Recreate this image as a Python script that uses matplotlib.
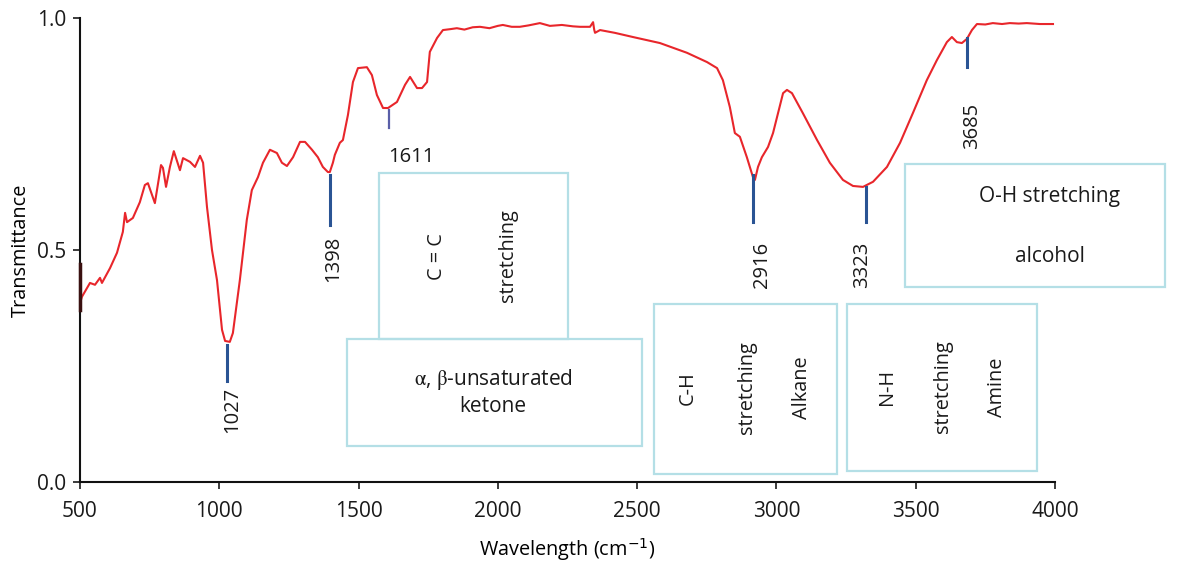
import matplotlib
matplotlib.use('Agg')
import matplotlib.pyplot as plt
import matplotlib.patches as patches

plt.rcParams['font.family'] = ['Open Sans', 'DejaVu Sans']
plt.rcParams['mathtext.fontset'] = 'dejavusans'

# FTIR spectrum (wavenumber, transmittance)
wavenumber = [500, 507, 536, 554, 572, 579, 608, 633, 654, 662, 669, 690, 715, 733, 744,
              769, 791, 798, 809, 823, 837, 859, 870, 895, 913, 931, 942, 956, 974, 992,
              1010, 1021, 1038, 1049, 1074, 1099, 1117, 1139, 1157, 1182, 1207, 1225, 1243,
              1265, 1290, 1308, 1333, 1354, 1372, 1390, 1397, 1408, 1415, 1433, 1444, 1462,
              1480, 1498, 1530, 1548, 1566, 1588, 1606, 1638, 1667, 1685, 1710, 1728, 1746,
              1756, 1782, 1803, 1830, 1853, 1880, 1910, 1936, 1970, 2000, 2018, 2050, 2079,
              2110, 2151, 2187, 2230, 2270, 2295, 2331, 2342, 2346, 2349, 2367, 2420, 2485,
              2582, 2679, 2751, 2787, 2808, 2833, 2851, 2869, 2894, 2916, 2923, 2934, 2948,
              2970, 2988, 3006, 3024, 3038, 3056, 3095, 3146, 3192, 3239, 3275, 3311, 3347,
              3397, 3444, 3490, 3540, 3576, 3612, 3630, 3648, 3666, 3684, 3702, 3720, 3750,
              3777, 3810, 3838, 3870, 3899, 3946, 3993]
transmittance = [0.385, 0.399, 0.429, 0.425, 0.440, 0.429, 0.461, 0.494, 0.539, 0.580, 0.560,
                 0.569, 0.603, 0.640, 0.644, 0.601, 0.683, 0.677, 0.636, 0.679, 0.713, 0.672,
                 0.698, 0.690, 0.679, 0.703, 0.688, 0.593, 0.500, 0.435, 0.328, 0.304, 0.302,
                 0.321, 0.435, 0.565, 0.629, 0.657, 0.688, 0.716, 0.709, 0.688, 0.681, 0.700,
                 0.733, 0.733, 0.716, 0.700, 0.679, 0.668, 0.668, 0.688, 0.705, 0.731, 0.737,
                 0.791, 0.862, 0.892, 0.894, 0.877, 0.834, 0.806, 0.806, 0.819, 0.856, 0.873,
                 0.849, 0.849, 0.862, 0.927, 0.957, 0.974, 0.976, 0.978, 0.975, 0.980, 0.981,
                 0.978, 0.983, 0.985, 0.981, 0.981, 0.984, 0.989, 0.983, 0.985, 0.982, 0.981,
                 0.981, 0.991, 0.975, 0.968, 0.974, 0.968, 0.959, 0.946, 0.925, 0.905, 0.892,
                 0.866, 0.808, 0.752, 0.744, 0.700, 0.657, 0.651, 0.679, 0.700, 0.722, 0.752,
                 0.795, 0.838, 0.845, 0.838, 0.795, 0.737, 0.688, 0.651, 0.638, 0.636, 0.647,
                 0.679, 0.731, 0.795, 0.866, 0.909, 0.948, 0.959, 0.948, 0.946, 0.955, 0.974,
                 0.987, 0.986, 0.989, 0.987, 0.989, 0.988, 0.989, 0.987, 0.987]

# noisy start at 500 cm-1
edge_y = [0.37, 0.47]

# peak markers: label, tick top, tick bottom
peaks = [1027, 1398, 1611, 2916, 3323, 3685]
peak_top = [0.295, 0.662, 0.802, 0.662, 0.636, 0.957]
peak_bottom = [0.218, 0.554, 0.763, 0.560, 0.560, 0.894]

# assignment boxes
box_names = ['C=C', 'ketone', 'C-H', 'N-H', 'O-H']
box_texts = [
    [('C = C', 1782, 0.485, 90), ('stretching', 2036, 0.487, 90)],
    [('$\\mathrm{\\alpha}$, $\\mathrm{\\beta}$-unsaturated\nketone', 1983, 0.194, 0)],
    [('C-H', 2683, 0.203, 90), ('stretching', 2894, 0.203, 90), ('Alkane', 3092, 0.203, 90)],
    [('N-H', 3397, 0.205, 90), ('stretching', 3598, 0.205, 90), ('Amine', 3792, 0.205, 90)],
    [('O-H stretching', 3982, 0.616, 0), ('alcohol', 3982, 0.485, 0)],
]

# layout (data coords): x0, x1, y0, y1
box_pos = [(1573, 2252, 0.308, 0.666), (1458, 2517, 0.078, 0.308),
           (2560, 3217, 0.017, 0.384), (3253, 3935, 0.024, 0.384),
           (3462, 4395, 0.420, 0.685)]
peak_label_pos = [(1045, 0.155, 90), (1410, 0.48, 90), (1690, 0.700, 0),
                  (2950, 0.468, 90), (3309, 0.468, 90), (3704, 0.767, 90)]

fig = plt.figure(figsize=(12.04, 5.64), dpi=100)
ax = fig.add_axes([0.0664, 0.1454, 0.8098, 0.8227])

ax.plot(wavenumber, transmittance, color='#e8262b', lw=1.5, zorder=3)
ax.plot([500, 500], edge_y, color='#3a1010', lw=2.5, zorder=4, clip_on=False)

for i in range(len(peaks)):
    c = '#5a5fa8' if peaks[i] == 1611 else '#2a5494'
    w = 1.6 if peaks[i] == 1611 else 2.2
    ax.plot([peaks[i], peaks[i]], [peak_bottom[i], peak_top[i]], color=c, lw=w, zorder=4)
    (lx, ly, rot) = peak_label_pos[i]
    ax.text(lx, ly, str(peaks[i]), rotation=rot, ha='center', va='center',
            fontsize=14.5, color='#1a1a1a')

for i in range(len(box_names)):
    (x0, x1, y0, y1) = box_pos[i]
    rect = patches.Rectangle((x0, y0), x1 - x0, y1 - y0, fill=False,
                             edgecolor='#b4dfe6', lw=1.6, clip_on=False, zorder=2)
    ax.add_patch(rect)
    for (t, tx, ty, rot) in box_texts[i]:
        fs = 14.3 if rot == 90 else 15
        ax.text(tx, ty, t, rotation=rot, ha='center', va='center', fontsize=fs,
                color='#1a1a1a', linespacing=1.3, clip_on=False, math_fontfamily='stix')

ax.set_xlim(500, 4000)
ax.set_ylim(0, 1.0)
ax.set_xticks([500, 1000, 1500, 2000, 2500, 3000, 3500, 4000])
ax.set_yticks([0.0, 0.5, 1.0])
ax.set_yticklabels(['0.0', '0.5', '1.0'])
ax.tick_params(labelsize=15, length=5, width=1.2, colors='#1a1a1a')
ax.tick_params(axis='x', pad=9)
ax.tick_params(axis='y', pad=5)
for s in ['top', 'right']:
    ax.spines[s].set_visible(False)
for s in ['left', 'bottom']:
    ax.spines[s].set_linewidth(1.5)
    ax.spines[s].set_color('#111111')

ax.set_xlabel('Wavelength (cm$^{-1}$)', fontsize=14.3, labelpad=10)
ax.set_ylabel('Transmittance', fontsize=14.3, labelpad=4)

fig.savefig('out.png', dpi=100)
